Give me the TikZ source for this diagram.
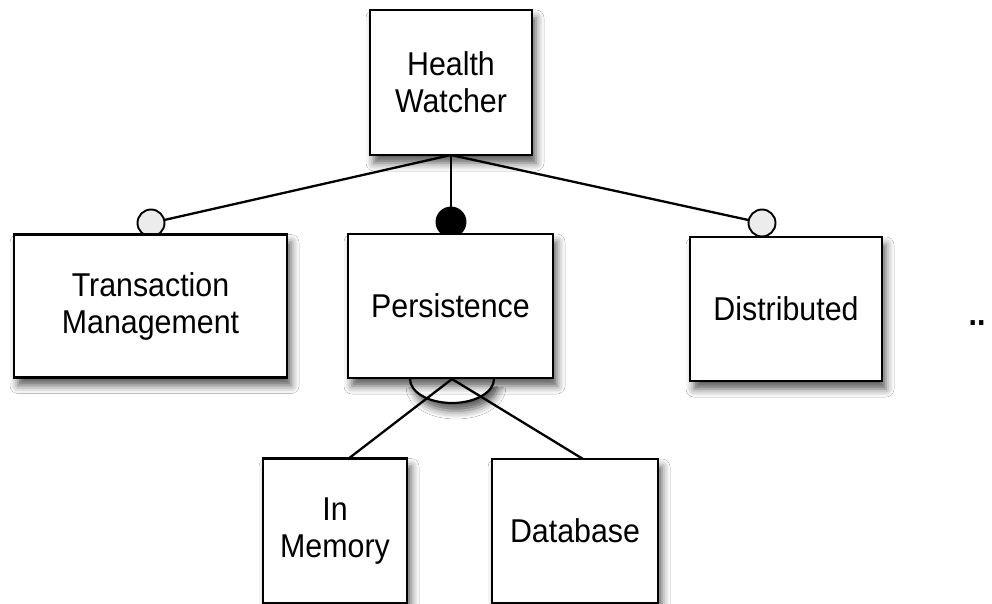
\documentclass[tikz,border=0pt]{standalone}
\usepackage{fontspec}
\setmainfont{Liberation Sans}
\newfontfamily\lbl[FakeStretch=0.92]{Liberation Sans}
\usetikzlibrary{shadows.blur}
\begin{document}
\begin{tikzpicture}[x=1pt,y=-1pt,
  shd/.style={blur shadow={shadow xshift=4pt, shadow yshift=-8pt, shadow blur radius=8pt, shadow opacity=65}},
  feat/.style={draw=black, line width=2.4pt, fill=white, shd, align=center, inner sep=0pt,
     font=\lbl\fontsize{33}{37}\selectfont},
  conn/.style={draw=black, line width=2.3pt},
  optc/.style={circle, draw=black, line width=1.9pt, fill=gray!15, minimum size=27pt, inner sep=0pt},
  manc/.style={circle, draw=black, line width=1.9pt, fill=black, minimum size=29pt, inner sep=0pt}]
\useasboundingbox (0,0) rectangle (992,604);
\fill[white] (0,0) rectangle (992,604);
% connectors first
\coordinate (hwb) at (451,155);
\coordinate (tmc) at (151,223);
\coordinate (pc) at (451,222);
\coordinate (dc) at (762,223);
\draw[conn] (hwb) -- (tmc);
\draw[conn] (hwb) -- (pc);
\draw[conn] (hwb) -- (dc);
% markers
\node[optc] (tmo) at (tmc) {};
\node[manc] (pm) at (pc) {};
\node[optc] (do) at (dc) {};
% alternative group ellipse
\coordinate (alt) at (452,379);
\draw[line width=2.2pt, fill=white, shd] ([xshift=-42pt]alt) arc[start angle=180, end angle=360, x radius=42pt, y radius=24pt];
\coordinate (imt) at (348,459);
\coordinate (dbt) at (583,459);
\draw[conn] (alt) -- (imt);
\draw[conn] (alt) -- (dbt);
% boxes
\node[feat, minimum width=162pt, minimum height=145pt] (hw) at (451,82.5) {Health\\Watcher};
\node[feat, minimum width=273pt, minimum height=143pt] (tm) at (150.5,306) {Transaction\\Management};
\node[feat, minimum width=205pt, minimum height=144pt] (p) at (450.5,306) {Persistence};
\node[feat, minimum width=192pt, minimum height=144pt] (d) at (786,309) {Distributed};
\node[feat, minimum width=144pt, minimum height=145pt] (im) at (335,531) {In\\Memory};
\node[feat, minimum width=166pt, minimum height=144pt] (db) at (575,531) {Database};
\node[font=\lbl\fontsize{33}{37}\selectfont\bfseries] (more) at (977,323) {..};
\end{tikzpicture}
\end{document}
